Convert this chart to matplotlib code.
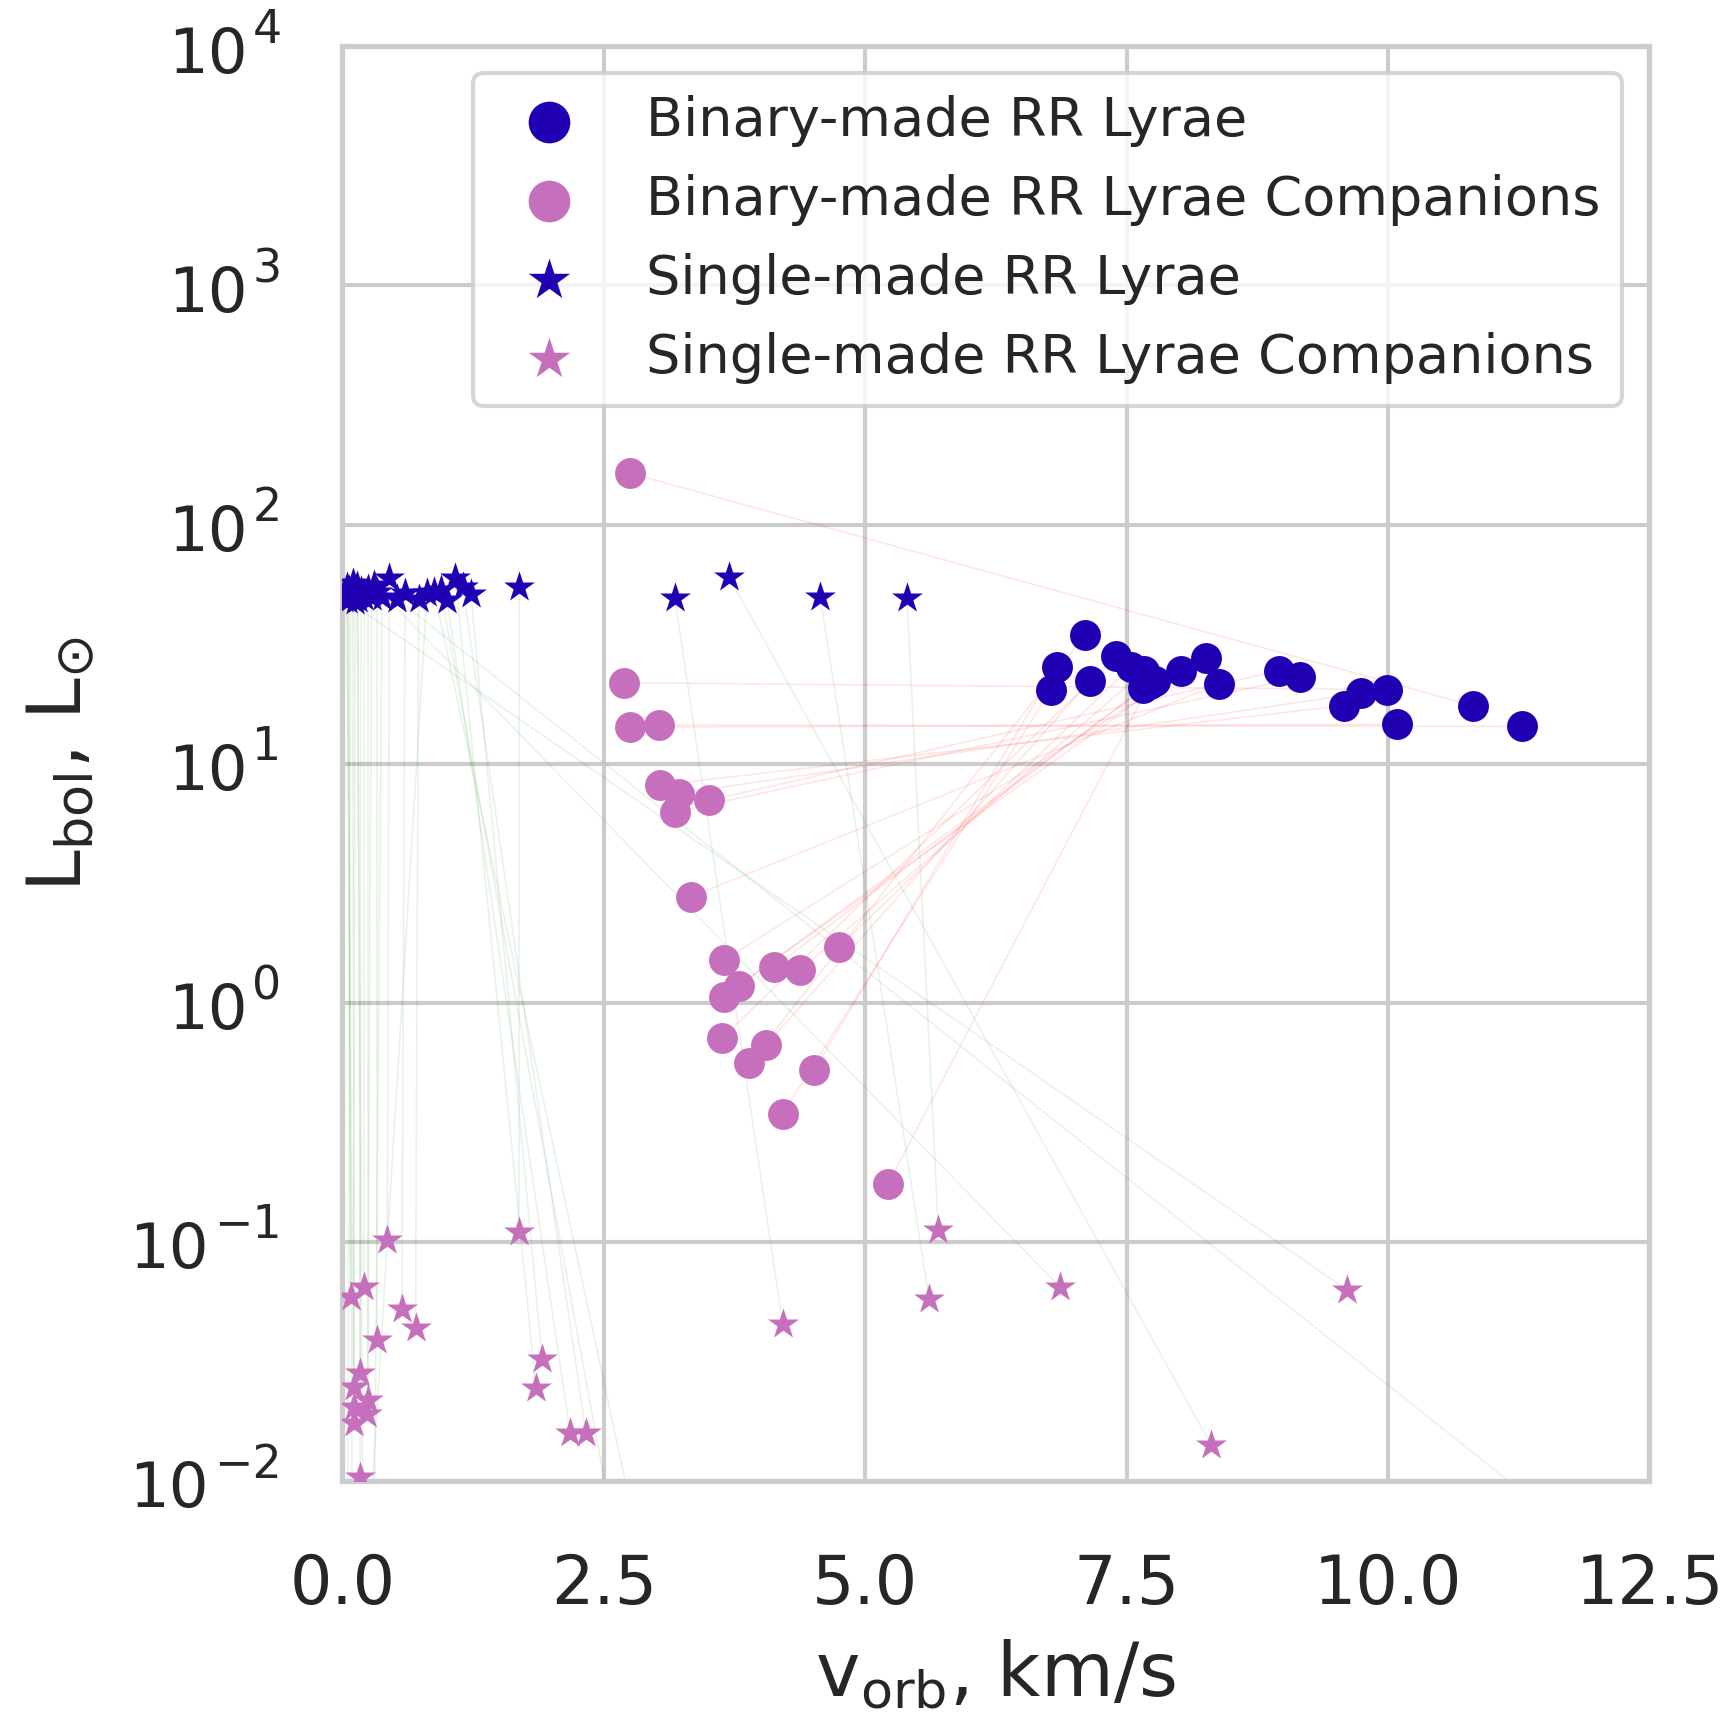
import matplotlib
matplotlib.use("Agg")
import matplotlib.pyplot as plt
from matplotlib.transforms import offset_copy
import seaborn as sns
import numpy as np

sns.set_theme(style="whitegrid")
plt.rcParams['font.family'] = ['DejaVu Sans']
plt.rcParams['mathtext.fontset'] = 'dejavusans'

# binary-made RR Lyrae and their companions (same order = same system)
bin_rr_v = [7.10, 6.83, 6.78, 7.15, 7.40, 7.54, 7.67, 7.66, 7.77, 8.02, 8.26,
            8.38, 8.96, 9.16, 9.58, 9.74, 9.99, 10.09, 10.81, 11.28, 7.72]
bin_rr_L = [34.4, 25.4, 20.4, 22.2, 28.1, 25.4, 24.5, 20.7, 22.2, 24.5, 27.7,
            21.5, 24.5, 23.0, 17.5, 19.7, 20.4, 14.6, 17.5, 14.3, 21.5]
bin_comp_v = [3.89, 4.51, 4.21, 4.05, 3.63, 4.75, 4.38, 4.13, 3.65, 3.79, 3.65,
              3.33, 3.51, 3.18, 3.04, 3.22, 2.69, 2.75, 2.75, 3.03, 5.22]
bin_comp_L = [0.557, 0.522, 0.344, 0.664, 0.710, 1.71, 1.37, 1.41, 1.06, 1.18, 1.51,
              2.77, 7.03, 6.28, 8.13, 7.50, 21.8, 14.2, 164.0, 14.5, 0.175]

# single-made RR Lyrae and their companions
sin_rr_v = [3.18, 3.70, 4.57, 5.40,
            0.45, 1.69, 0.21, 0.06, 0.60, 0.73, 0.33, 1.23, 1.08, 1.00, 1.15,
            0.15, 0.10, 0.25, 0.12, 0.28, 0.04, 0.18, 0.02, 0.30, 0.94,
            0.08, 0.05, 0.14, 0.38, 0.88, 0.52, 0.81]
sin_rr_L = [49.1, 60.1, 49.9, 49.1,
            59.5, 55.0, 50.0, 53.0, 51.5, 49.0, 52.0, 51.0, 60.0, 48.5, 55.0,
            49.0, 57.0, 54.0, 48.0, 50.0, 55.0, 52.5, 49.0, 56.0, 53.0,
            51.0, 48.5, 55.5, 50.0, 52.0, 49.0, 51.5]
sin_comp_v = [4.21, 8.31, 5.61, 5.70,
              0.43, 1.69, 0.21, 0.08, 0.57, 0.70, 0.33, 1.91, 1.85, 2.18, 2.33,
              0.17, 0.11, 0.25, 0.11, 0.24, 0.11, 0.17, 9.61, 6.86, 2.60,
              0.05, 0.10, 0.20, 0.30, 2.90, 11.6, 0.15]
sin_comp_L = [0.0455, 0.0141, 0.0579, 0.1117,
              0.1016, 0.110, 0.0647, 0.0587, 0.0526, 0.0434, 0.0388, 0.0325, 0.0244, 0.0158, 0.0158,
              0.0282, 0.0247, 0.0218, 0.0204, 0.0191, 0.0174, 0.0104, 0.0628, 0.0649, 0.006,
              0.004, 0.002, 0.005, 0.003, 0.004, 0.007, 0.001]

x_ticks = [0.0, 2.5, 5.0, 7.5, 10.0, 12.5]
y_exps = [-2, -1, 0, 1, 2, 3, 4]

blue = '#2100b3'
pink = '#c670bd'
txt = '#262626'

fig = plt.figure(figsize=(1729 / 300, 1717 / 300), dpi=300)
ax = fig.add_axes([0.198, 0.1375, 0.756, 0.8355])

for i in range(len(bin_rr_v)):
    ax.plot([bin_rr_v[i], bin_comp_v[i]], [bin_rr_L[i], bin_comp_L[i]],
            color='red', alpha=0.1, lw=0.4, zorder=2)
for i in range(len(sin_rr_v)):
    ax.plot([sin_rr_v[i], sin_comp_v[i]], [sin_rr_L[i], sin_comp_L[i]],
            color='green', alpha=0.09, lw=0.4, zorder=2)

ax.scatter(bin_rr_v, bin_rr_L, s=55, color=blue, marker='o', lw=0, zorder=3,
           label='Binary-made RR Lyrae')
ax.scatter(bin_comp_v, bin_comp_L, s=55, color=pink, marker='o', lw=0, zorder=3,
           label='Binary-made RR Lyrae Companions')
ax.scatter(sin_rr_v, sin_rr_L, s=60, color=blue, marker='*', lw=0, zorder=3,
           label='Single-made RR Lyrae')
ax.scatter(sin_comp_v, sin_comp_L, s=60, color=pink, marker='*', lw=0, zorder=3,
           label='Single-made RR Lyrae Companions')

ax.set_yscale('log')
ax.set_xlim(0, 12.5)
ax.set_ylim(1e-2, 1e4)
ax.set_xticks(x_ticks)
ax.set_yticks([10.0 ** e for e in y_exps])
ax.minorticks_off()

ax.grid(True, color='#cccccc', lw=1.0)
for sp in ax.spines.values():
    sp.set_color('#cccccc')
    sp.set_linewidth(1.25)
ax.tick_params(axis='x', labelsize=16, pad=11, colors=txt)
ax.tick_params(axis='y', labelleft=False)

# y tick labels: "10" plus a fairly large exponent
ytrans = ax.get_yaxis_transform()
exp_trans = offset_copy(ytrans, fig=fig, x=-14.6, y=0.8, units='points')
for e in y_exps:
    t_exp = ax.text(0, 10.0 ** e, str(e).replace('-', '\u2212'), transform=exp_trans,
                    ha='right', va='baseline', fontsize=11, color=txt)
    ax.annotate('10', xy=(0, 10.0 ** e), xycoords=(t_exp, ytrans),
                xytext=(-1.2, -6.3), textcoords='offset points',
                ha='right', va='baseline', fontsize=15, color=txt,
                annotation_clip=False)

ax.set_xlabel(r'v$_{\mathrm{orb}}$, km/s', fontsize=18, color=txt, labelpad=5)
ax.set_ylabel(r'L$_{\mathrm{bol}}$, L$_{\odot}$', fontsize=18, color=txt)
ax.yaxis.set_label_coords(-0.187, 0.5)

ax.legend(loc='upper right', fontsize=13, markerscale=1.35, frameon=True)

plt.savefig('out.png', dpi=300)
